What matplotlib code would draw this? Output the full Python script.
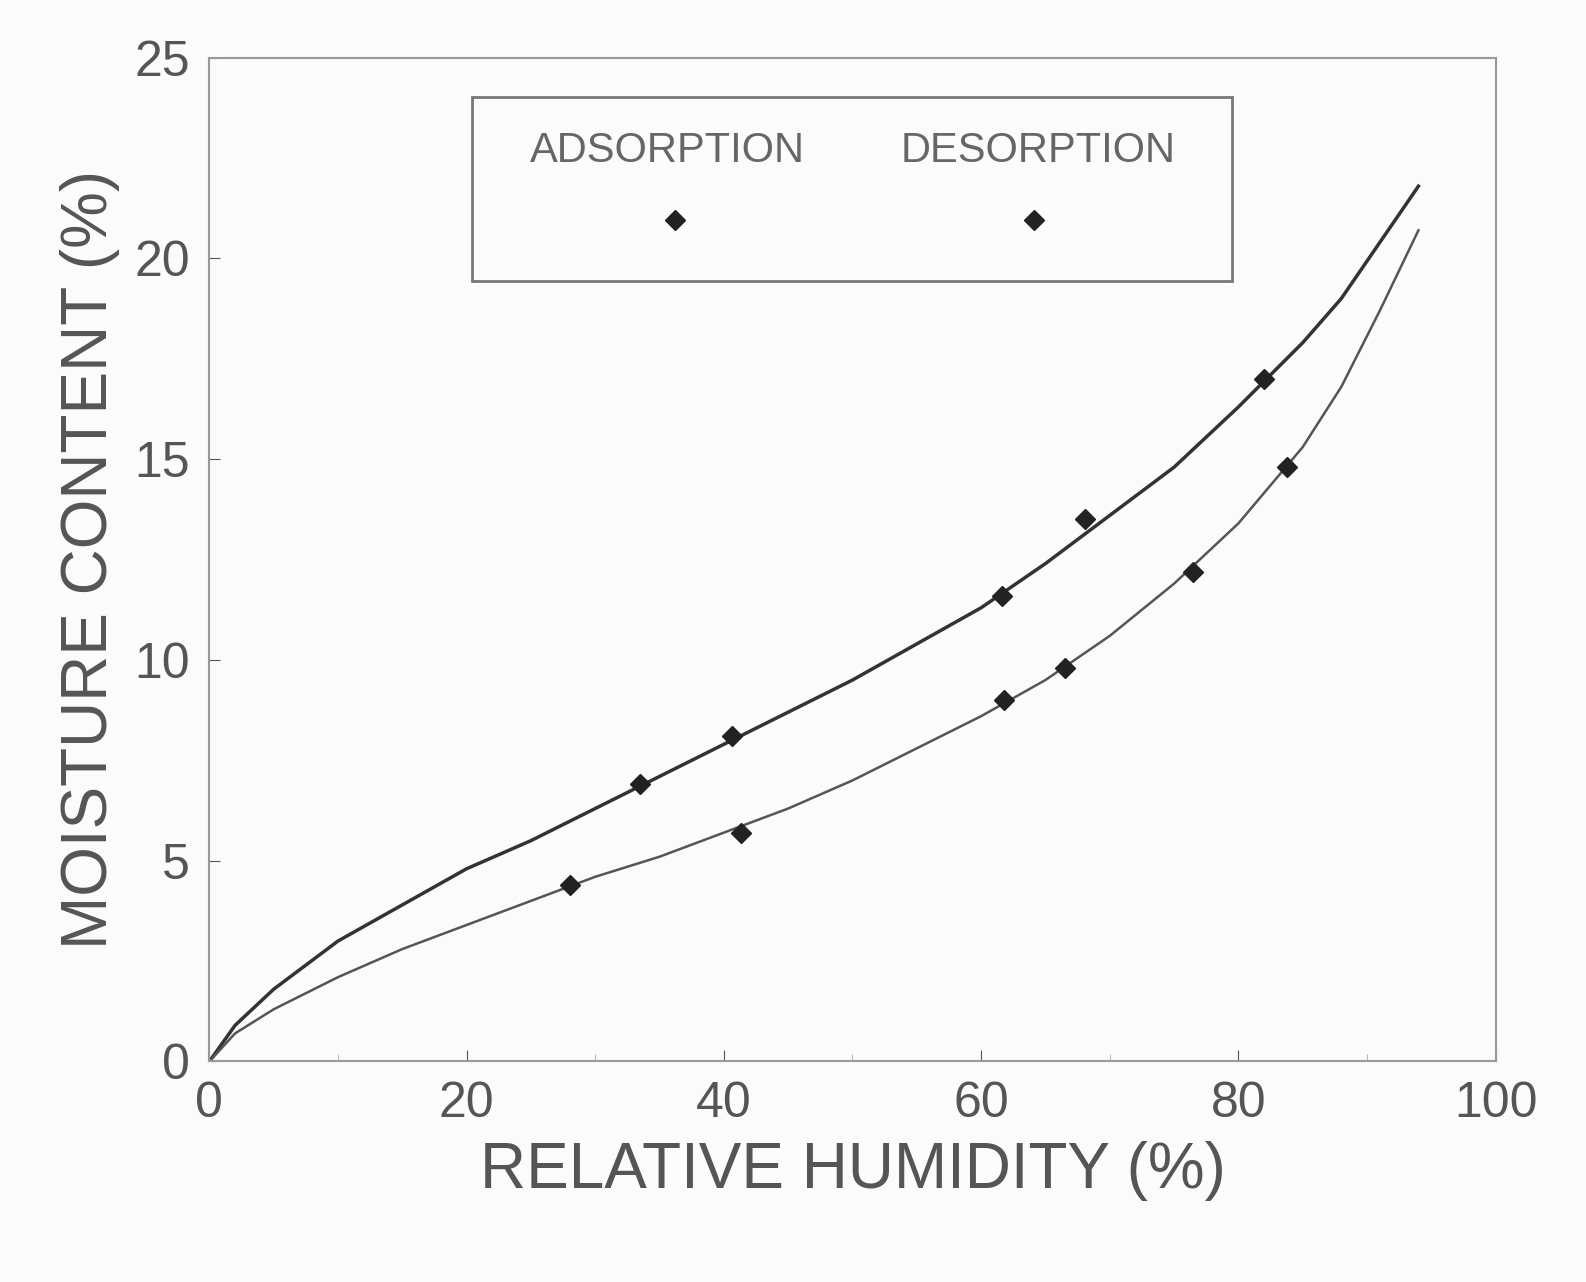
import matplotlib.pyplot as plt
import matplotlib.patches as patches

plt.rcParams['font.family'] = ['Liberation Sans', 'DejaVu Sans']

# curve points
rh_curve = [0, 2, 5, 10, 15, 20, 25, 30, 35, 40, 45, 50, 55, 60, 65, 70, 75, 80, 85, 88, 91, 94]
des_curve = [0, 0.9, 1.8, 3.0, 3.9, 4.8, 5.5, 6.3, 7.1, 7.9, 8.7, 9.5, 10.4, 11.3, 12.4, 13.6, 14.8, 16.3, 17.9, 19.0, 20.4, 21.8]
ads_curve = [0, 0.7, 1.3, 2.1, 2.8, 3.4, 4.0, 4.6, 5.1, 5.7, 6.3, 7.0, 7.8, 8.6, 9.5, 10.6, 11.9, 13.4, 15.3, 16.8, 18.7, 20.7]

# measured points
rh_des = [33.5, 40.6, 61.6, 68.1, 82.0]
mc_des = [6.9, 8.1, 11.6, 13.5, 17.0]
rh_ads = [28.0, 41.3, 61.8, 66.5, 76.5, 83.8]
mc_ads = [4.4, 5.7, 9.0, 9.8, 12.2, 14.8]

grey = '#555555'
fig = plt.figure(figsize=(15.86, 12.82), dpi=100)
fig.patch.set_facecolor('#fbfbfb')
ax = fig.add_axes([0.132, 0.172, 0.811, 0.783])
ax.set_facecolor('#fbfbfb')

ax.plot(rh_curve, des_curve, color='#333333', lw=2.5)
ax.plot(rh_curve, ads_curve, color='#555555', lw=1.8)
ax.plot(rh_des, mc_des, 'D', color='#222222', ms=10)
ax.plot(rh_ads, mc_ads, 'D', color='#222222', ms=10)

ax.set_xlim(0, 100)
ax.set_ylim(0, 25)
ax.set_xticks([0, 20, 40, 60, 80, 100])
ax.set_yticks([0, 5, 10, 15, 20, 25])
ax.set_xticks(range(10, 100, 20), minor=True)
ax.tick_params(direction='in', labelsize=36, colors=grey, length=8, pad=14)
ax.tick_params(which='minor', direction='in', length=5, colors='#aaaaaa')
for s in ax.spines.values():
    s.set_color('#999999')
    s.set_linewidth(1.5)

ax.set_xlabel('RELATIVE HUMIDITY (%)', fontsize=46, color=grey, labelpad=10)
ax.set_ylabel('MOISTURE CONTENT (%)', fontsize=46, color=grey, labelpad=10)

# legend box
ax.add_patch(patches.Rectangle((0.204, 0.778), 0.591, 0.183, transform=ax.transAxes,
                               fill=False, edgecolor='#777777', lw=2))
ax.text(0.356, 0.907, 'ADSORPTION', transform=ax.transAxes, ha='center', va='center',
        fontsize=30, color='#666666')
ax.text(0.644, 0.907, 'DESORPTION', transform=ax.transAxes, ha='center', va='center',
        fontsize=30, color='#666666')
ax.plot([0.362], [0.838], 'D', color='#222222', ms=10, transform=ax.transAxes)
ax.plot([0.641], [0.838], 'D', color='#222222', ms=10, transform=ax.transAxes)

fig.savefig('out.png', dpi=100, facecolor=fig.get_facecolor())
